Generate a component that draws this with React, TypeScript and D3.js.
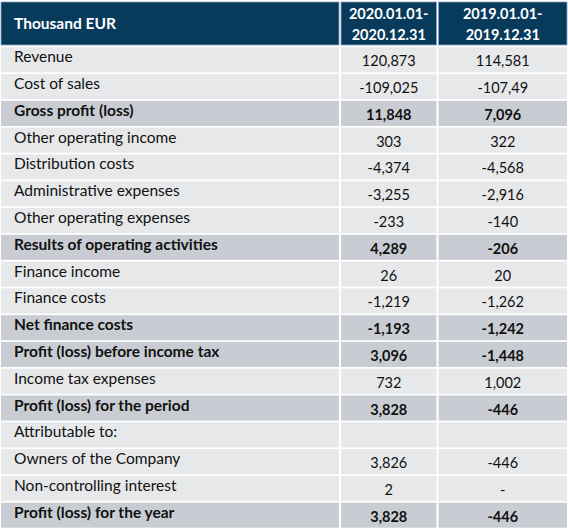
import React from "react";
import * as d3 from "d3";

const headerLabel = "Thousand EUR";
const periodHeaders = [
  ["2020.01.01-", "2020.12.31"],
  ["2019.01.01-", "2019.12.31"],
];
const rowLabels = [
  "Revenue",
  "Cost of sales",
  "Gross profit (loss)",
  "Other operating income",
  "Distribution costs",
  "Administrative expenses",
  "Other operating expenses",
  "Results of operating activities",
  "Finance income",
  "Finance costs",
  "Net finance costs",
  "Profit (loss) before income tax",
  "Income tax expenses",
  "Profit (loss) for the period",
  "Attributable to:",
  "Owners of the Company",
  "Non-controlling interest",
  "Profit (loss) for the year",
];
const values2020 = [
  "120,873", "-109,025", "11,848", "303", "-4,374", "-3,255", "-233", "4,289",
  "26", "-1,219", "-1,193", "3,096", "732", "3,828", "", "3,826", "2", "3,828",
];
const values2019 = [
  "114,581", "-107,49", "7,096", "322", "-4,568", "-2,916", "-140", "-206",
  "20", "-1,262", "-1,242", "-1,448", "1,002", "-446", "", "-446", "-", "-446",
];
const boldRows = [2, 7, 10, 11, 13, 17];

const W = 568;
const H = 529;
const FONT = "Lato, 'Open Sans', sans-serif";

export default function App() {
  const colEdges = [1, 340, 437.5, 567];
  const gap = 2;
  const headerTop = 2;
  const headerBottom = 45;

  const y = d3
    .scaleBand<number>()
    .domain(d3.range(rowLabels.length))
    .range([46.5, 528.5])
    .paddingInner(0.065)
    .paddingOuter(0.03);

  const cols = [0, 1, 2].map((i) => ({
    x0: colEdges[i] + (i === 0 ? 0 : gap / 2),
    x1: colEdges[i + 1] - (i === 2 ? 0 : gap / 2),
  }));

  return (
    <svg
      width={W}
      height={H}
      style={{ position: "absolute", left: 0, top: 0, background: "#fff" }}
      fontFamily={FONT}
    >
      {cols.map((c, i) => (
        <rect
          key={"h" + i}
          x={c.x0}
          y={headerTop}
          width={c.x1 - c.x0}
          height={headerBottom - headerTop}
          fill="#073a5b"
          stroke="#86a6bf"
          strokeWidth={0.8}
        />
      ))}
      <text x={14} y={29} fill="#fff" fontWeight="bold" fontSize={15.5}>
        {headerLabel}
      </text>
      {periodHeaders.map((lines, i) => {
        const c = cols[i + 1];
        const cx = (c.x0 + c.x1) / 2;
        return (
          <text
            key={"ph" + i}
            x={cx}
            fill="#fff"
            fontWeight="bold"
            fontSize={14.5}
            textAnchor="middle"
          >
            <tspan x={cx} y={19}>
              {lines[0]}
            </tspan>
            <tspan x={cx} y={40}>
              {lines[1]}
            </tspan>
          </text>
        );
      })}

      {rowLabels.map((label, r) => {
        const bold = boldRows.includes(r);
        const fill = bold ? "#c9cdd3" : "#e7e8ea";
        const y0 = y(r)!;
        const bh = y.bandwidth();
        const cy = y0 + bh / 2;
        const vals = [values2020[r], values2019[r]];
        return (
          <g key={"r" + r}>
            {cols.map((c, i) => (
              <rect
                key={i}
                x={c.x0}
                y={y0}
                width={c.x1 - c.x0}
                height={bh}
                fill={fill}
              />
            ))}
            <text
              x={14}
              y={cy + 2.5}
              fontSize={15.5}
              fontWeight={bold ? "bold" : "normal"}
              fill="#111"
            >
              {label}
            </text>
            {vals.map((v, i) => {
              const c = cols[i + 1];
              return (
                <text
                  key={i}
                  x={(c.x0 + c.x1) / 2}
                  y={cy + 6.5}
                  fontSize={14.5}
                  textAnchor="middle"
                  fontWeight={bold ? "bold" : "normal"}
                  fill="#111"
                >
                  {v}
                </text>
              );
            })}
          </g>
        );
      })}
    </svg>
  );
}
